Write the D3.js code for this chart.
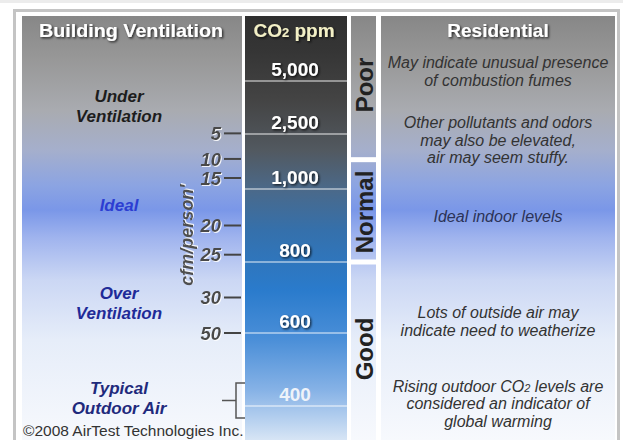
<!DOCTYPE html>
<html><head><meta charset="utf-8">
<script src="https://cdn.jsdelivr.net/npm/d3@7"></script>
<style>body{margin:0;background:#fff}svg{display:block}text{font-family:"Liberation Sans",Arial,sans-serif}</style>
</head><body><svg id="c" width="623" height="440"></svg>
<script>
// ---------- data ----------
const ppmValues = [5000, 2500, 1000, 800, 600, 400];
const ppmLabels = ["5,000", "2,500", "1,000", "800", "600", "400"];
const cfmTicks = [5, 10, 15, 20, 25, 30, 50];
const cfmAsPpm = [2530, 1820, 1300, 900, 820, 700, 600];   // CO2 ppm level each cfm tick sits at
const airBands = ["Poor", "Normal", "Good"];
const bandBreaks = [1800, 800];                              // ppm limits between bands
const ventilationZones = [["Under", "Ventilation"], ["Ideal"], ["Over", "Ventilation"], ["Typical", "Outdoor Air"]];
const residentialNotes = [
  ["May indicate unusual presence", "of combustion fumes"],
  ["Other pollutants and odors", "may also be elevated,", "air may seem stuffy."],
  ["Ideal indoor levels"],
  ["Lots of outside air may", "indicate need to weatherize"],
  ["Rising outdoor CO|2| levels are", "considered an indicator of", "global warming"]
];
const outdoorPpm = 400;

// ---------- layout ----------
const svg = d3.select("#c");
const TOP = 16, BOT = 446;
const col = {left: [22, 242], co2: [245, 347], band: [351, 376], right: [381, 615]};
const y = d3.scaleLinear().domain(ppmValues).range([81, 134, 189, 262, 333, 406]);
const zoneLayout = {pos: [[102, 122], [211], [299, 319], [394, 414]], fill: ["#1d1d1d", "#2c3ed2", "#1f2b98", "#1f2a7c"]};
const noteLayout = [[68, 86], [128, 146, 163], [222], [318, 336], [392, 409, 427]];
const bandCenters = [85, 212, 349];

const defs = svg.append("defs");
function grad(id, stops) {
  const g = defs.append("linearGradient").attr("id", id).attr("gradientUnits", "userSpaceOnUse")
    .attr("x1", 0).attr("x2", 0).attr("y1", TOP).attr("y2", 440);
  stops.forEach(([yy, c]) => g.append("stop").attr("offset", (yy - TOP) / (440 - TOP)).attr("stop-color", c));
}
grad("gPanel", [[16, "#878787"], [60, "#989898"], [110, "#a9abb0"], [150, "#a5afcc"], [185, "#8ca4e2"], [210, "#7a97e8"], [238, "#a0b4ee"], [280, "#cbd7f4"], [340, "#e6edf9"], [440, "#f7f9fd"]]);
grad("gCo2", [[16, "#2f2f2f"], [50, "#353535"], [100, "#444444"], [150, "#525960"], [189, "#4b6989"], [230, "#3570ab"], [290, "#2a7bcc"], [340, "#4b8fd8"], [390, "#86b2e6"], [440, "#d7e5f5"]]);
const fd = defs.append("filter").attr("id", "sd").attr("x", "-20%").attr("y", "-40%").attr("width", "140%").attr("height", "180%");
fd.append("feDropShadow").attr("dx", 1.3).attr("dy", 1.3).attr("stdDeviation", 0.8).attr("flood-color", "#000").attr("flood-opacity", 0.75);
const fl = defs.append("filter").attr("id", "sl").attr("x", "-20%").attr("y", "-40%").attr("width", "140%").attr("height", "180%");
fl.append("feDropShadow").attr("dx", 1).attr("dy", 1).attr("stdDeviation", 0.4).attr("flood-color", "#fff").attr("flood-opacity", 0.85);

// frame
svg.append("rect").attr("x", 0).attr("y", 0).attr("width", 623).attr("height", 3).attr("fill", "#ececec");
svg.append("rect").attr("x", 14.5).attr("y", 10.5).attr("width", 604).attr("height", 440).attr("fill", "none").attr("stroke", "#c4c4c4").attr("stroke-width", 3);

// panels
svg.append("rect").attr("x", col.left[0]).attr("y", TOP).attr("width", col.left[1] - col.left[0]).attr("height", BOT - TOP).attr("fill", "url(#gPanel)");
svg.append("rect").attr("x", col.right[0]).attr("y", TOP).attr("width", col.right[1] - col.right[0]).attr("height", BOT - TOP).attr("fill", "url(#gPanel)");
svg.append("rect").attr("x", col.co2[0]).attr("y", TOP).attr("width", col.co2[1] - col.co2[0]).attr("height", BOT - TOP).attr("fill", "url(#gCo2)");

// band column (Poor / Normal / Good)
const edges = [TOP, ...bandBreaks.map(v => y(v)), BOT];
svg.selectAll(".band").data(airBands).join("rect").attr("class", "band")
  .attr("x", col.band[0]).attr("width", col.band[1] - col.band[0])
  .attr("y", (d, i) => i === 0 ? edges[i] : edges[i] + 2.5)
  .attr("height", (d, i) => (edges[i + 1] - (i === airBands.length - 1 ? 0 : 2.5)) - (i === 0 ? edges[i] : edges[i] + 2.5))
  .attr("fill", "url(#gPanel)");
svg.selectAll(".bandLbl").data(airBands).join("text").attr("class", "bandLbl")
  .attr("transform", (d, i) => `translate(373,${bandCenters[i]}) rotate(-90)`)
  .attr("text-anchor", "middle").attr("font-size", 24).attr("font-weight", "bold").attr("fill", "#222").text(d => d);

// CO2 rows
svg.selectAll(".sep").data(ppmValues).join("line").attr("class", "sep")
  .attr("x1", col.co2[0]).attr("x2", col.co2[1]).attr("y1", d => y(d)).attr("y2", d => y(d))
  .attr("stroke", "#ffffff").attr("stroke-opacity", 0.6).attr("stroke-width", 1.5);
svg.selectAll(".ppm").data(ppmValues).join("text").attr("class", "ppm")
  .attr("x", 295).attr("y", d => y(d) - 5).attr("text-anchor", "middle")
  .attr("font-size", 19).attr("font-weight", "bold")
  .attr("fill", d => d === outdoorPpm ? "#eef3fa" : "#ffffff")
  .attr("filter", d => d === outdoorPpm ? null : "url(#sd)")
  .text((d, i) => ppmLabels[i]);

// headers
function title(x, fill) {
  return svg.append("text").attr("x", x).attr("y", 37).attr("text-anchor", "middle")
    .attr("font-size", 19).attr("font-weight", "bold").attr("fill", fill).attr("filter", "url(#sd)");
}
title(131, "#fff").text("Building Ventilation").attr("textLength", 184).attr("lengthAdjust", "spacingAndGlyphs");
title(498, "#fff").text("Residential");
const co = title(294, "#f3f0c6");
co.append("tspan").text("CO");
co.append("tspan").attr("font-size", 13).text("2");
co.append("tspan").text(" ppm");

// cfm/person axis
svg.selectAll(".tick").data(cfmAsPpm).join("line").attr("class", "tick")
  .attr("x1", 224).attr("x2", 241).attr("y1", d => y(d)).attr("y2", d => y(d))
  .attr("stroke", "#444").attr("stroke-width", 2);
svg.selectAll(".tickLbl").data(cfmTicks).join("text").attr("class", "tickLbl")
  .attr("x", 221).attr("y", (d, i) => y(cfmAsPpm[i])).attr("dy", "0.36em").attr("text-anchor", "end")
  .attr("font-size", 18.5).attr("font-weight", "bold").attr("font-style", "italic")
  .attr("fill", "#4a4a4a").attr("filter", "url(#sl)").text(d => d);
svg.append("text").attr("transform", "translate(193,235) rotate(-90)").attr("text-anchor", "middle")
  .attr("font-size", 18).attr("font-weight", "bold").attr("font-style", "italic")
  .attr("fill", "#4f4f4f").attr("filter", "url(#sl)").text("cfm/person'");

// outdoor air bracket
const bTop = y(outdoorPpm) - 23, bBot = y(outdoorPpm) + 12, bMid = (bTop + bBot) / 2;
svg.append("path").attr("d", `M245,${bTop}H236V${bBot}H245M236,${bMid}H222`)
  .attr("fill", "none").attr("stroke", "#555").attr("stroke-width", 1.5);

// ventilation zone labels
ventilationZones.forEach((lines, i) => {
  svg.append("g").selectAll("text").data(lines).join("text")
    .attr("x", 119).attr("y", (d, j) => zoneLayout.pos[i][j]).attr("text-anchor", "middle")
    .attr("font-size", 17).attr("font-weight", "bold").attr("font-style", "italic")
    .attr("fill", zoneLayout.fill[i]).text(d => d);
});

// residential notes
residentialNotes.forEach((lines, i) => {
  svg.append("g").selectAll("text").data(lines).join("text")
    .attr("x", 498).attr("y", (d, j) => noteLayout[i][j]).attr("text-anchor", "middle")
    .attr("font-size", 16).attr("font-style", "italic")
    .attr("fill", i === 2 ? "#2b3358" : "#333")
    .each(function (d) {
      const t = d3.select(this);
      d.split("|").forEach((p, k) => t.append("tspan").attr("font-size", k === 1 ? 11 : null).text(p));
    });
});

// copyright
svg.append("text").attr("x", 23).attr("y", 436).attr("font-size", 15.5).attr("fill", "#333")
  .text("©2008 AirTest Technologies Inc.");
</script></body></html>
